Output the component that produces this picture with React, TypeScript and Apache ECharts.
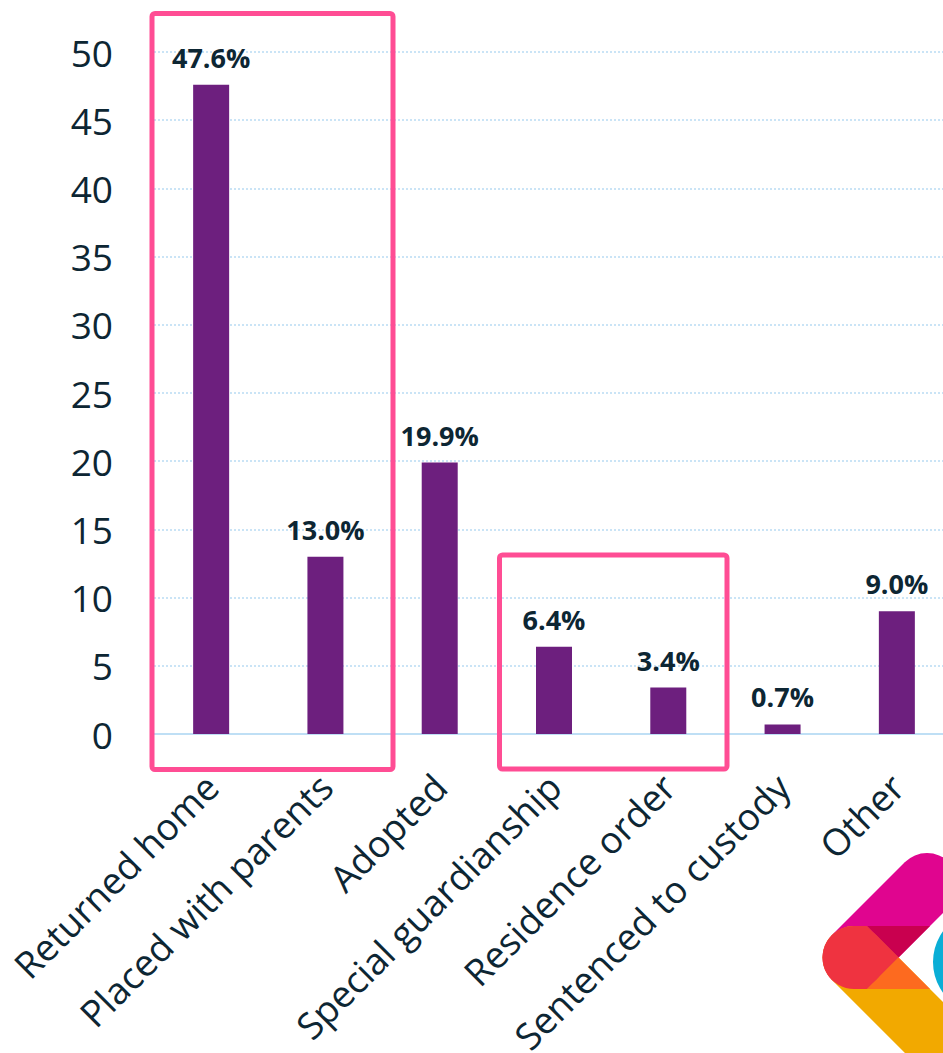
import React, { useEffect, useRef } from "react";
import * as echarts from "echarts";

const categories = [
  "Returned home",
  "Placed with parents",
  "Adopted",
  "Special guardianship",
  "Residence order",
  "Sentenced to custody",
  "Other",
];
const values = [47.6, 13.0, 19.9, 6.4, 3.4, 0.7, 9.0];
const yMin = 0;
const yMax = 50;
const yStep = 5;

const TEXT = "#0d2633";
const PINK = "#ff4d94";

export default function App() {
  const ref = useRef<HTMLDivElement>(null);
  useEffect(() => {
    if (!ref.current) return;
    const chart = echarts.init(ref.current, undefined, { renderer: "svg" });
    chart.setOption({
      animation: false,
      backgroundColor: "#ffffff",
      grid: {
        left: 154,
        top: 52,
        width: 800,
        height: 682,
        containLabel: false,
        outerBoundsMode: "none",
      },
      xAxis: {
        type: "category",
        data: categories,
        axisLine: { show: true, lineStyle: { color: "#bfdff5", width: 2 } },
        axisTick: { show: false },
        axisLabel: {
          interval: 0,
          rotate: 45,
          margin: 46,
          fontFamily: "Open Sans",
          fontSize: 37,
          color: TEXT,
        },
      },
      yAxis: {
        type: "value",
        min: yMin,
        max: yMax,
        interval: yStep,
        axisLine: { show: false },
        axisTick: { show: false },
        axisLabel: {
          margin: 41,
          fontFamily: "Open Sans",
          fontSize: 37,
          color: TEXT,
        },
        splitLine: {
          show: true,
          lineStyle: { color: "#b9dcf3", width: 1.5, type: [2, 2] },
        },
      },
      series: [
        {
          type: "bar",
          data: values,
          barWidth: 36,
          itemStyle: { color: "#6d1f7e" },
          label: {
            show: true,
            position: "top",
            distance: 14,
            fontFamily: "Open Sans",
            fontWeight: "bold",
            fontSize: 27,
            color: TEXT,
            formatter: (p: any) => Number(p.value).toFixed(1) + "%",
          },
        },
      ],
      graphic: [
        {
          type: "rect",
          z: 100,
          shape: { x: 152, y: 13.5, width: 241, height: 756, r: 3 },
          style: { fill: "none", stroke: PINK, lineWidth: 5 },
        },
        {
          type: "rect",
          z: 100,
          shape: { x: 499.5, y: 555, width: 227.5, height: 214, r: 3 },
          style: { fill: "none", stroke: PINK, lineWidth: 5 },
        },
        {
          type: "group",
          z: 90,
          children: [
            {
              type: "circle",
              shape: { cx: 985, cy: 962, r: 52 },
              style: { fill: "#0aaed6" },
            },
            {
              type: "line",
              shape: { x1: 854, y1: 957.5, x2: 927, y2: 884.5 },
              style: { stroke: "#e0058f", lineWidth: 63, lineCap: "round" },
            },
            {
              type: "line",
              shape: { x1: 854, y1: 957.5, x2: 1000, y2: 1103.5 },
              style: { stroke: "#f2a900", lineWidth: 63, lineCap: "round" },
            },
            {
              type: "polygon",
              shape: { points: [[867, 926], [930, 926], [898.5, 957.5]] },
              style: { fill: "#c9004f" },
            },
            {
              type: "polygon",
              shape: { points: [[867, 989], [930, 989], [898.5, 957.5]] },
              style: { fill: "#fd6a1f" },
            },
            {
              type: "circle",
              shape: { cx: 854, cy: 957.5, r: 31.5 },
              style: { fill: "#ef3340" },
            },
            {
              type: "polygon",
              shape: {
                points: [
                  [854, 926],
                  [867, 926],
                  [898.5, 957.5],
                  [867, 989],
                  [854, 989],
                ],
              },
              style: { fill: "#ef3340" },
            },
          ],
        },
      ],
    });
    return () => chart.dispose();
  }, []);
  return (
    <div
      ref={ref}
      style={{ position: "fixed", left: 0, top: 0, width: 943, height: 1053, overflow: "hidden" }}
    />
  );
}
